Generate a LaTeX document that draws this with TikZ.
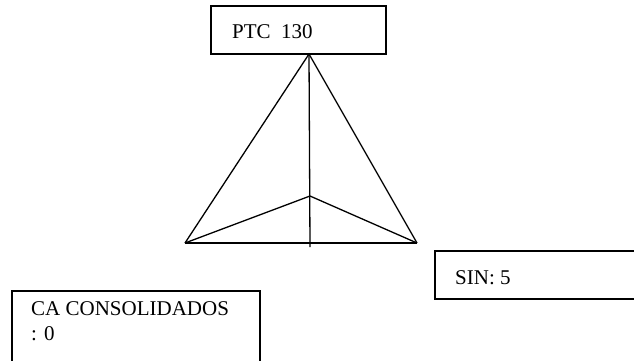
\documentclass[tikz,border=0pt]{standalone}
\usepackage{fontspec}
\setmainfont{Liberation Serif}
\begin{document}
\begin{tikzpicture}[x=1pt,y=-1pt,
  boxshape/.style={draw=black,line width=1.4pt,rectangle,inner sep=0pt},
  txt/.style={font=\fontsize{21}{25}\selectfont,inner sep=0pt,align=left},
  edge/.style={draw=black,line width=1.3pt}]
\path[use as bounding box,clip] (0,0) rectangle (634,360);
% boxes
\node[boxshape,minimum width=175pt,minimum height=48pt] (ptc) at (298.5,30) {};
\node[txt,anchor=base west] (ptct) at (232,38) {PTC\ \ 130};
\node[boxshape,minimum width=205pt,minimum height=48pt] (sin) at (537.5,275) {};
\node[txt,anchor=base west] (sint) at (455,284) {SIN: 5};
\node[boxshape,minimum width=248pt,minimum height=90pt] (ca) at (136,336) {};
\node[txt,anchor=north west] (cat) at (31,301.5) {CA CONSOLIDADOS\\: 0};
% triangle
\coordinate (apex) at (309,54);
\coordinate (bl) at (185,243);
\coordinate (br) at (417,243);
\coordinate (mid) at (310,196);
\coordinate (foot) at (310,247);
\draw[edge,line join=miter] (bl) -- (apex) -- (br);
\draw[edge] (bl) -- (br);
\draw[edge] (bl) -- (mid) -- (br);
\draw[edge] (apex) -- (foot);
\end{tikzpicture}
\end{document}
